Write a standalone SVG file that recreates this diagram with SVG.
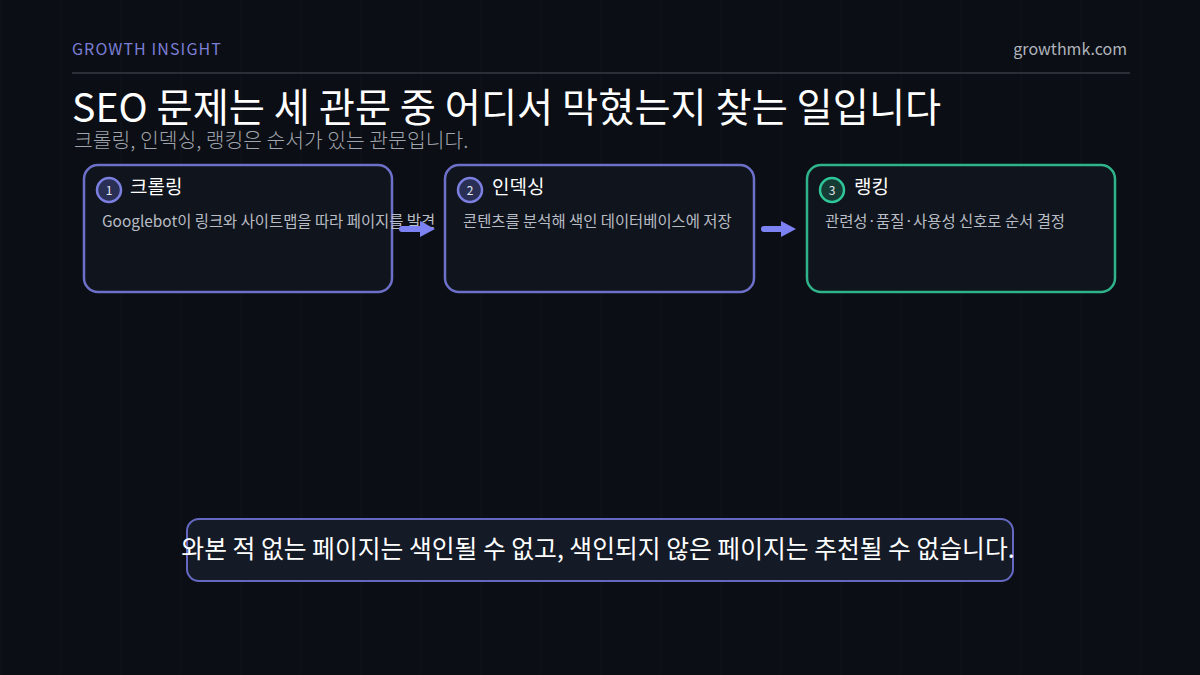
<svg xmlns="http://www.w3.org/2000/svg" width="1200" height="675" viewBox="0 0 1200 675">
  <defs>
    <style>
      .k { font-family: "Noto Sans CJK KR", "Noto Sans", sans-serif; }
      .node rect.card { fill: #10141c; stroke-width: 2.5; }
      .blue rect.card { stroke: #6c70c8; }
      .green rect.card { stroke: #2fb38a; }
      .blue circle { fill: #2a2f55; stroke: #7b7fe0; stroke-width: 2.5; }
      .green circle { fill: #163a34; stroke: #2fc79a; stroke-width: 2.5; }
      .num { font-size: 12px; fill: #e6e8ef; text-anchor: middle; }
      .head { font-size: 19px; fill: #ffffff; }
      .desc { font-size: 15.4px; fill: #b8bcc4; }
      .conn line { stroke: #7d82f2; stroke-width: 6; stroke-linecap: round; }
    </style>
    <marker id="ah" markerWidth="15" markerHeight="16" refX="1" refY="8" orient="auto" markerUnits="userSpaceOnUse" viewBox="0 0 15 16">
      <path d="M0,0 L15,8 L0,16 Z" fill="#7d82f2"/>
    </marker>
    <pattern id="grid" width="60" height="675" patternUnits="userSpaceOnUse">
      <rect x="0" y="0" width="2" height="675" fill="#ffffff" opacity="0.012"/>
    </pattern>
  </defs>
  <rect width="1200" height="675" fill="#0b0e14"/>
  <rect width="1200" height="675" fill="url(#grid)"/>

  <g id="header">
    <text x="72" y="55" class="k" font-size="16" fill="#7b7fd6" letter-spacing="1.1">GROWTH INSIGHT</text>
    <text x="1127" y="55" class="k" font-size="16" fill="#b0b4bc" text-anchor="end">growthmk.com</text>
    <line x1="72" y1="73" x2="1130" y2="73" stroke="#2a2e36" stroke-width="2"/>
    <text x="72" y="122" class="k" font-size="39.3" fill="#ffffff">SEO 문제는 세 관문 중 어디서 막혔는지 찾는 일입니다</text>
    <text x="74" y="148" class="k" font-size="20.4" font-weight="300" fill="#a0a4ac">크롤링, 인덱싱, 랭킹은 순서가 있는 관문입니다.</text>
  </g>

  <g id="node-crawl" class="node blue">
    <rect class="card" x="84" y="165" width="308" height="127" rx="14"/>
    <circle cx="109" cy="190" r="12"/>
    <text x="109" y="194.5" class="k num">1</text>
    <text x="130" y="194" class="k head">크롤링</text>
    <text x="102" y="227" class="k desc">Googlebot이 링크와 사이트맵을 따라 페이지를 발견</text>
  </g>

  <g id="node-index" class="node blue">
    <rect class="card" x="445" y="165" width="309" height="127" rx="14"/>
    <circle cx="470" cy="190" r="12"/>
    <text x="470" y="194.5" class="k num">2</text>
    <text x="492" y="194" class="k head">인덱싱</text>
    <text x="463" y="227" class="k desc">콘텐츠를 분석해 색인 데이터베이스에 저장</text>
  </g>

  <g id="node-rank" class="node green">
    <rect class="card" x="807" y="165" width="308" height="127" rx="14"/>
    <circle cx="832" cy="190" r="12"/>
    <text x="832" y="194.5" class="k num">3</text>
    <text x="854" y="194" class="k head">랭킹</text>
    <text x="825" y="227" class="k desc">관련성·품질·사용성 신호로 순서 결정</text>
  </g>

  <g id="connectors" class="conn">
    <line x1="402" y1="229" x2="421" y2="229" marker-end="url(#ah)"/>
    <line x1="764" y1="229" x2="782" y2="229" marker-end="url(#ah)"/>
  </g>

  <g id="note">
    <rect x="187" y="519" width="826" height="62" rx="12" fill="#141a26" stroke="#6468c0" stroke-width="2"/>
    <text x="598" y="558" class="k" font-size="24.8" fill="#ffffff" text-anchor="middle">와본 적 없는 페이지는 색인될 수 없고, 색인되지 않은 페이지는 추천될 수 없습니다.</text>
  </g>
</svg>
